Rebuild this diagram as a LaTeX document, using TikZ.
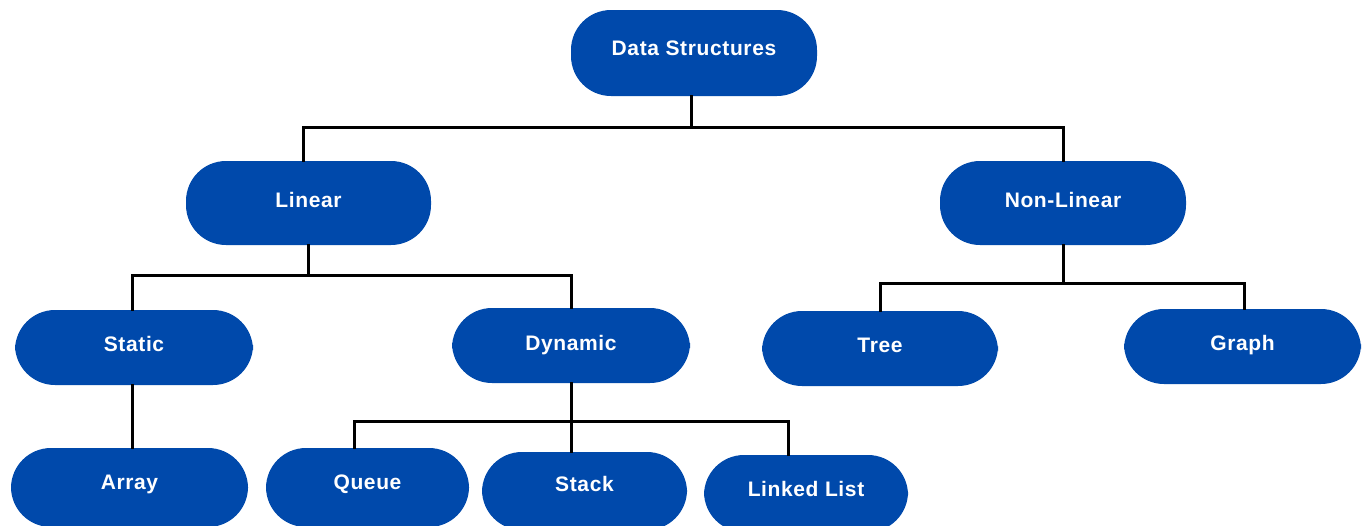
\documentclass[tikz,border=0pt]{standalone}
\usepackage{fontspec}
\setmainfont{Liberation Sans}
\newfontfamily\boxfont[LetterSpace=3]{Liberation Sans}
\definecolor{boxblue}{RGB}{0,73,171}
\begin{document}
\begin{tikzpicture}[x=1pt,y=-1pt,
  pill/.style={draw=none,fill=boxblue,rounded corners=40pt,text=white,
    font=\boxfont\bfseries\fontsize{21}{24}\selectfont,
    text height=14pt,text depth=6pt,inner sep=0pt},
  conn/.style={draw=black,line width=3pt,line join=miter,line cap=rect}]
\useasboundingbox (0,0) rectangle (1362,525);
\clip (0,0) rectangle (1362,525);
\fill[white] (0,0) rectangle (1362,525);
% nodes
\node[pill,minimum width=246pt,minimum height=86pt,text depth=10pt] (ds) at (694,53) {Data Structures};
\node[pill,minimum width=245pt,minimum height=84pt] (lin) at (308.5,203) {Linear};
\node[pill,minimum width=246pt,minimum height=84pt] (nl) at (1063,203) {Non-Linear};
\node[pill,minimum width=238pt,minimum height=75pt,text depth=7pt] (st) at (134,347.5) {Static};
\node[pill,minimum width=238pt,minimum height=75pt,text depth=5pt] (dy) at (571,345.5) {Dynamic};
\node[pill,minimum width=236pt,minimum height=75pt,text depth=7pt] (tr) at (880,348.5) {Tree};
\node[pill,minimum width=237pt,minimum height=75pt,text depth=7pt] (gr) at (1242.5,346.5) {Graph};
\node[pill,minimum width=237pt,minimum height=79pt,text depth=10pt] (ar) at (129.5,487.5) {Array};
\node[pill,minimum width=203pt,minimum height=79pt,text depth=11pt] (qu) at (367.5,487.5) {Queue};
\node[pill,minimum width=205pt,minimum height=78pt,text depth=14pt] (sk) at (584.5,491) {Stack};
\node[pill,minimum width=204pt,minimum height=77pt,text depth=9pt] (ll) at (806,493.5) {Linked List};
% junctions
\coordinate (j1) at (691,127);
\coordinate (j2) at (306,275);
\coordinate (j3) at (1063,283);
\coordinate (j4) at (572,421);
% connectors
\draw[conn] ([xshift=-3pt]ds.south) -- ([xshift=-3pt]ds.south |- j1);
\draw[conn] ([xshift=-5pt]lin.north) -- ([xshift=-5pt]lin.north |- j1) -- (nl.north |- j1) -- (nl.north);
\draw[conn] (lin.south) -- (lin.south |- j2);
\draw[conn] ([xshift=-2pt]st.north) -- ([xshift=-2pt]st.north |- j2) -- (dy.north |- j2) -- (dy.north);
\draw[conn] (nl.south) -- (nl.south |- j3);
\draw[conn] (tr.north) -- (tr.north |- j3) -- ([xshift=1.5pt]gr.north |- j3) -- ([xshift=1.5pt]gr.north);
\draw[conn] ([xshift=-2pt]st.south) -- ([xshift=-2pt]st.south |- ar.north);
\draw[conn] (dy.south) -- (dy.south |- j4);
\draw[conn] ([xshift=-13.5pt]qu.north) -- ([xshift=-13.5pt]qu.north |- j4) -- ([xshift=-17.5pt]ll.north |- j4) -- ([xshift=-17.5pt]ll.north);
\draw[conn] (dy.south |- j4) -- (dy.south |- sk.north);
\end{tikzpicture}
\end{document}
